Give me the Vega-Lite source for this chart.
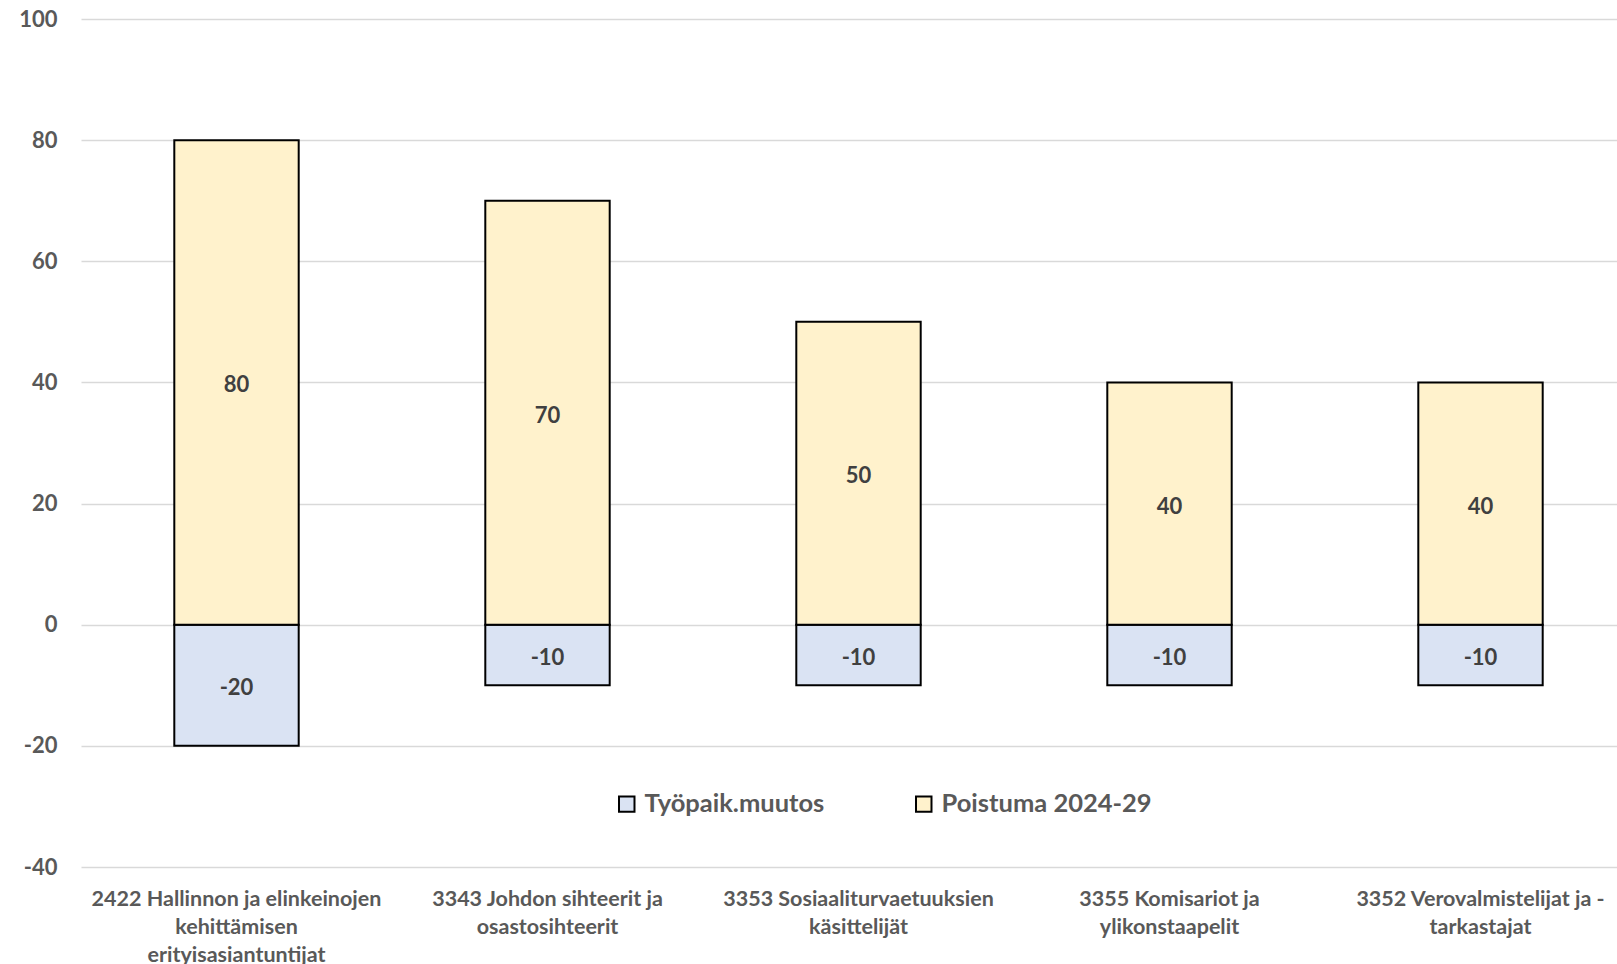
{
  "$schema": "https://vega.github.io/schema/vega-lite/v6.json",
  "autosize": {"type": "none"},
  "width": 1536,
  "height": 848,
  "padding": {"left": 81, "top": 19, "right": 0, "bottom": 97},
  "background": "white",
  "config": {
    "font": "Lato",
    "view": {"stroke": null}
  },
  "data": {
    "values": [
      {"ammatti": "2422 Hallinnon ja elinkeinojen|kehittämisen|erityisasiantuntijat", "sarja": "Työpaik.muutos", "arvo": -20},
      {"ammatti": "2422 Hallinnon ja elinkeinojen|kehittämisen|erityisasiantuntijat", "sarja": "Poistuma 2024-29", "arvo": 80},
      {"ammatti": "3343 Johdon sihteerit ja|osastosihteerit", "sarja": "Työpaik.muutos", "arvo": -10},
      {"ammatti": "3343 Johdon sihteerit ja|osastosihteerit", "sarja": "Poistuma 2024-29", "arvo": 70},
      {"ammatti": "3353 Sosiaaliturvaetuuksien|käsittelijät", "sarja": "Työpaik.muutos", "arvo": -10},
      {"ammatti": "3353 Sosiaaliturvaetuuksien|käsittelijät", "sarja": "Poistuma 2024-29", "arvo": 50},
      {"ammatti": "3355 Komisariot ja|ylikonstaapelit", "sarja": "Työpaik.muutos", "arvo": -10},
      {"ammatti": "3355 Komisariot ja|ylikonstaapelit", "sarja": "Poistuma 2024-29", "arvo": 40},
      {"ammatti": "3352 Verovalmistelijat ja -|tarkastajat", "sarja": "Työpaik.muutos", "arvo": -10},
      {"ammatti": "3352 Verovalmistelijat ja -|tarkastajat", "sarja": "Poistuma 2024-29", "arvo": 40}
    ]
  },
  "encoding": {
    "x": {
      "field": "ammatti",
      "type": "nominal",
      "sort": null,
      "scale": {"range": [0, 1555], "paddingInner": 0.6, "paddingOuter": 0.3},
      "axis": {
        "title": null,
        "domain": false,
        "ticks": false,
        "labelAngle": 0,
        "labelExpr": "split(datum.label, '|')",
        "labelFont": "Lato",
        "labelFontSize": 21.5,
        "labelFontWeight": "bold",
        "labelColor": "#595959",
        "labelLineHeight": 28,
        "labelPadding": 21,
        "labelBaseline": "top",
        "labelLimit": 400
      }
    }
  },
  "layer": [
    {
      "mark": {"type": "bar", "stroke": "black", "strokeWidth": 2},
      "encoding": {
        "y": {
          "field": "arvo",
          "type": "quantitative",
          "stack": "zero",
          "scale": {"domain": [-40, 100], "nice": false},
          "axis": {
            "title": null,
            "domain": false,
            "ticks": false,
            "values": [-40, -20, 0, 20, 40, 60, 80, 100],
            "labelExpr": "toString(datum.value)",
            "labelFont": "Lato",
            "labelFontSize": 22,
            "labelFontWeight": "bold",
            "labelColor": "#595959",
            "labelPadding": 24,
            "gridColor": "#d9d9d9",
            "gridWidth": 1.5
          }
        },
        "color": {
          "field": "sarja",
          "type": "nominal",
          "scale": {
            "domain": ["Työpaik.muutos", "Poistuma 2024-29"],
            "range": ["#DAE3F3", "#FFF2CC"]
          },
          "legend": {
            "title": null,
            "orient": "none",
            "direction": "horizontal",
            "legendX": 533,
            "legendY": 772,
            "symbolType": "square",
            "symbolSize": 240,
            "symbolStrokeColor": "black",
            "symbolStrokeWidth": 2,
            "symbolOpacity": 1,
            "labelFont": "Lato",
            "labelFontSize": 25.5,
            "labelFontWeight": "bold",
            "labelColor": "#595959",
            "labelOffset": 5,
            "columnPadding": 86,
            "labelLimit": 400
          }
        }
      }
    },
    {
      "mark": {"type": "text", "fontSize": 22, "fontWeight": "bold", "color": "#404040", "font": "Lato", "dy": 3},
      "encoding": {
        "y": {"field": "arvo", "type": "quantitative", "stack": "zero", "bandPosition": 0.5},
        "detail": {"field": "sarja"},
        "text": {"field": "arvo", "type": "nominal"}
      }
    }
  ]
}
